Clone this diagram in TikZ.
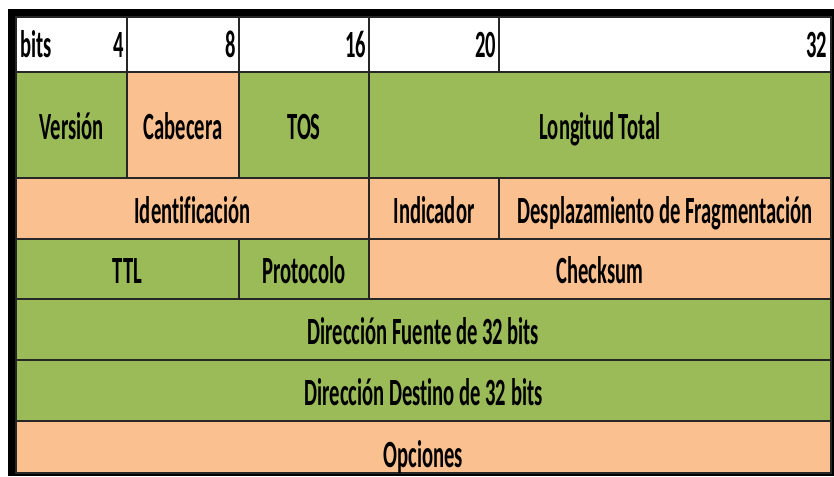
\documentclass[tikz,border=0pt]{standalone}
\usepackage{fontspec}
\usepackage{graphicx}
\setmainfont[Ligatures=NoCommon]{Carlito}
\definecolor{cgreen}{HTML}{9BBB59}
\definecolor{corange}{HTML}{FAC090}
\newcommand\sq[1]{\scalebox{0.535}[1]{#1}}
\tikzset{
  grid/.style={draw=black!85, line width=1.3pt},
  lbl/.style={inner sep=0pt, outer sep=0pt, font=\fontsize{38.5}{40}\selectfont\bfseries, text=black},
}
% name, x1, x2, y1, y2, fill, text
\newcommand\cellbox[7]{%
  \draw[grid, fill=#6] (#2,#4) rectangle (#3,#5);
  \node[lbl, anchor=base] (#1) at ({(#2+#3)/2},{(#4+#5)/2+14.5}) {\sq{#7}};}
\begin{document}
\begin{tikzpicture}[x=1pt,y=-1pt]
\useasboundingbox (0,0) rectangle (834,476);
\fill[white] (0,0) rectangle (834,476);
% outer black frame
\fill[black] (7.5,9) rectangle (834,476);
% header row
\foreach \a/\b in {16/127,127/239,239/369,369/499,499/831}{
  \draw[grid, fill=white] (\a,17) rectangle (\b,72);
}
\node[lbl, anchor=base west] (hbits) at (20,58) {\sq{bits}};
\node[lbl, anchor=base east] (h4) at (124,58) {\sq{4}};
\node[lbl, anchor=base east] (h8) at (236,58) {\sq{8}};
\node[lbl, anchor=base east] (h16) at (366,58) {\sq{16}};
\node[lbl, anchor=base east] (h20) at (496,58) {\sq{20}};
\node[lbl, anchor=base east] (h32) at (827,58) {\sq{32}};
% row 1
\cellbox{ver}{16}{127}{72}{178}{cgreen}{Versión}
\cellbox{cab}{127}{239}{72}{178}{corange}{Cabecera}
\cellbox{tos}{239}{369}{72}{178}{cgreen}{TOS}
\cellbox{lon}{369}{831}{72}{178}{cgreen}{Longitud Total}
% row 2
\cellbox{ide}{16}{369}{178}{239}{corange}{Identificación}
\cellbox{ind}{369}{499}{178}{239}{corange}{Indicador}
\cellbox{des}{499}{831}{178}{239}{corange}{Desplazamiento de Fragmentación}
% row 3
\cellbox{ttl}{16}{239}{239}{299}{cgreen}{TTL}
\cellbox{pro}{239}{369}{239}{299}{cgreen}{Protocolo}
\cellbox{chk}{369}{831}{239}{299}{corange}{Checksum}
% row 4, 5
\cellbox{fue}{16}{831}{299}{360}{cgreen}{Dirección Fuente de 32 bits}
\cellbox{dst}{16}{831}{360}{421}{cgreen}{Dirección Destino de 32 bits}
% row 6
\draw[grid, fill=corange] (16,421) rectangle (831,473);
\node[lbl, anchor=base] (opc) at (423.5,467) {\sq{Opciones}};
% bottom black edge over descenders
\fill[black] (7.5,473.5) rectangle (834,476);
\end{tikzpicture}
\end{document}
